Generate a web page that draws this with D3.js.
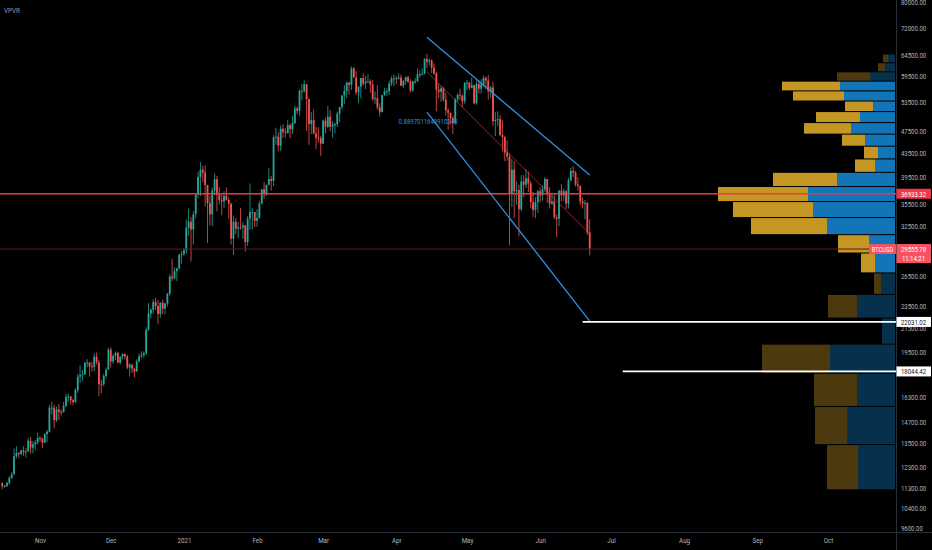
<!DOCTYPE html>
<html>
<head>
<meta charset="utf-8">
<script src="https://cdn.jsdelivr.net/npm/d3@7"></script>
<style>
  html, body { margin: 0; padding: 0; background: #000; overflow: hidden; }
  svg { display: block; }
  text { font-family: Roboto, "Noto Sans", sans-serif; }
</style>
</head>
<body>
<svg id="chart"></svg>
<script>
// BTCUSD daily candles, 16 Oct 2020 .. 22 Jun 2021 (open = previous close)
var firstDay = '2020-10-16';
var firstOpen = 11500;

var closes = [
  // oct
  11360, 11370, 11510, 11750, 11920, 12820, 12990, 12930, 13120, 13030, 13070, 13650, 13270, 13450, 13560, 13800,
  // nov
  13760, 13550, 14020, 14150, 15590, 15590, 14830, 15480, 15330, 15310, 15700, 16280, 16320, 16070, 15960,
  16730, 17660, 17780, 17820, 18680, 18710, 18420, 18370, 19160, 18720, 17150, 17140, 17720, 18180, 19700,
  // dec
  18790, 19220, 19440, 18700, 19150, 19360, 19170, 18330, 18550, 18250, 18040, 18800, 19170, 19270, 19440,
  21340, 22800, 23140, 23860, 23480, 22750, 23820, 23240, 23730, 24680, 26440, 26250, 27040, 27360, 28890, 28990,
  // jan
  29400, 32190, 33000, 31990, 33990, 36810, 39500, 40670, 40240, 38240, 35540, 34000, 37390, 39150, 36770,
  36010, 35800, 36630, 36020, 35470, 30820, 33000, 32090, 32270, 32250, 32500, 30400, 33400, 34300, 34300, 33100,
  // feb
  33500, 35500, 37600, 36950, 38300, 39200, 38900, 46400, 46500, 44850, 48000, 47400, 47200, 48700,
  47900, 49100, 52100, 51600, 55900, 55900, 57400, 54100, 48900, 49700, 47100, 46300, 46200, 45200,
  // mar
  49600, 48400, 50400, 48400, 48800, 48900, 51000, 52400, 54900, 55900, 57800, 57300, 61200, 59000, 55600,
  56900, 58900, 57600, 58000, 58100, 57400, 54100, 54300, 52300, 51300, 55000, 55800, 55800, 57600, 58800, 58800,
  // apr
  58700, 59000, 57100, 58200, 59100, 58000, 56000, 58100, 58100, 59800, 59800, 59900, 63600, 62900, 63200,
  61400, 60000, 56200, 55700, 56500, 54000, 51700, 51200, 50100, 49100, 54000, 55000, 54800, 53600, 57700,
  // may
  57800, 56600, 57200, 53200, 57500, 56400, 57400, 58900, 58300, 55800, 56700, 49500, 49700, 49900, 46800,
  46400, 43600, 42900, 37000, 40700, 37300, 37500, 34700, 38800, 38300, 39300, 38500, 35700, 34600, 35700, 37300,
  // jun
  36700, 37600, 39200, 36900, 35500, 35800, 33600, 33400, 37400, 36700, 37300,
  35500, 39000, 40500, 40200, 38300, 38100, 35800, 35500, 35600, 31600, 29555.78
];

var highs = [
  11540, 11420, 11560, 11830, 12030, 13220, 13350, 13030, 13170, 13340, 13250, 13790, 13860, 13640, 13680, 14100,
  13900, 13820, 14060, 14250, 15760, 15970, 15790, 15660, 15830, 15480, 15960, 16490, 16480, 16330, 16140,
  16880, 17860, 18480, 18140, 18780, 18960, 18700, 18770, 19400, 19480, 18900, 17460, 17870, 18330, 19850,
  19900, 19340, 19560, 19520, 19170, 19420, 19390, 19290, 18650, 18560, 18270, 18950, 19420, 19570, 19560,
  21560, 23770, 23260, 24150, 24290, 24080, 23830, 24100, 23800, 24760, 26720, 28400, 27460, 27390, 28990, 29310,
  29680, 33300, 34800, 33620, 34440, 36940, 40370, 41950, 41350, 41400, 38300, 36620, 37850, 40100, 39700,
  37950, 36820, 37320, 37850, 36400, 35600, 33830, 33500, 32940, 34870, 32940, 32560, 33750, 38500, 34860, 34300,
  34700, 35900, 37660, 38700, 38300, 40950, 39700, 46750, 48200, 47300, 48650, 48870, 48100, 49700,
  49000, 50600, 52600, 52500, 56300, 57500, 58350, 57500, 54200, 51350, 51900, 48400, 48300, 46600,
  49800, 50200, 52600, 51800, 49500, 49200, 51400, 52400, 54900, 57300, 58000, 58000, 61700, 61600, 60600,
  56900, 58900, 60000, 59400, 59800, 58600, 58400, 55800, 57200, 53200, 55000, 56600, 56500, 58300, 59300, 59800,
  59400, 60000, 59700, 58500, 59200, 59400, 58600, 58200, 58900, 61200, 60700, 61200, 63800, 64850, 63800,
  63500, 62500, 60400, 57500, 57000, 56800, 55500, 52100, 51200, 50500, 54300, 55400, 56400, 55200, 58000,
  58500, 58000, 59000, 57200, 58300, 58400, 58600, 59500, 59300, 59600, 57000, 58000, 51300, 51500, 50700,
  49700, 46600, 45800, 43500, 42500, 42200, 38800, 38300, 39800, 39800, 40800, 40400, 38900, 37200, 36400, 37500,
  37900, 38200, 39500, 39200, 37900, 36800, 36800, 34000, 37500, 38400, 37700,
  37500, 39400, 41000, 41300, 40500, 39500, 38200, 36400, 36000, 35700, 33300
];

var lows = [
  11220, 11300, 11330, 11420, 11690, 11900, 12710, 12750, 12880, 12850, 12760, 13050, 12950, 12980, 13130, 13430,
  13580, 13250, 13520, 13560, 14100, 15180, 14340, 14720, 14830, 15090, 15280, 15620, 15960, 15790, 15750,
  15870, 16560, 17220, 17340, 17780, 18350, 17670, 18020, 18070, 18540, 16330, 16520, 17000, 17530, 18170,
  18330, 18620, 18890, 18630, 18570, 18920, 18930, 18210, 17690, 17920, 17600, 18030, 18710, 19020, 19060,
  19260, 21240, 22380, 22790, 23100, 21880, 22400, 22730, 22700, 23440, 24490, 25970, 26130, 25990, 27230, 27860,
  28700, 29000, 31200, 28100, 30100, 33430, 36300, 36600, 38700, 35100, 30300, 32500, 32400, 36700, 34400,
  35400, 33900, 34900, 35900, 33400, 30100, 28850, 31400, 30900, 31950, 30800, 29250, 29900, 31950, 32000, 32300,
  32300, 33400, 35400, 36200, 36600, 38200, 37400, 38100, 45000, 43800, 43900, 46300, 46300, 47000,
  46200, 47000, 48900, 50900, 50600, 53800, 55500, 47600, 45000, 47000, 46900, 44200, 45400, 43000,
  45100, 47100, 48100, 47500, 46300, 47100, 48300, 49300, 51900, 53000, 54300, 55100, 56100, 59000, 55000,
  53300, 54200, 57100, 56300, 57800, 55500, 53700, 53100, 51800, 50400, 51300, 54700, 54800, 55000, 57000, 57000,
  57400, 58500, 57000, 56500, 57300, 57700, 55500, 55700, 57500, 58000, 59000, 59500, 59800, 61300, 62000,
  60000, 59600, 51500, 54300, 53500, 53600, 50600, 47800, 48800, 47000, 48800, 53400, 53900, 52400, 53100,
  56100, 56100, 56500, 53000, 52900, 55300, 55300, 56900, 56300, 54000, 54400, 48600, 46600, 48500, 46600,
  43800, 42100, 42200, 30000, 35000, 33500, 35300, 31100, 34400, 36400, 37800, 37200, 34800, 33600, 33500, 34200,
  35700, 35900, 37200, 35600, 34800, 35300, 33300, 31000, 32400, 35800, 35900,
  34700, 34800, 38800, 39500, 38000, 37400, 35300, 34800, 33300, 31300, 28800
];

// visible range volume profile: 24 rows, bottom to top, equal price steps
var profileLow = 11200;
var profileHigh = 64850;
var volumeUp =   [37, 48, 38, 65, 13, 38, 14, 20, 26, 68, 82, 87, 58, 20, 17, 30, 44, 35, 22, 51, 55, 25, 10, 7];
var volumeDown = [31, 32, 43, 68, 0, 29, 7, 14, 31, 76, 80, 90, 64, 20, 14, 23, 47, 44, 28, 51, 58, 33, 7, 5];
var valueArea = [7, 20]; // first and last row of the value area

var priceTicks = [80000, 72000, 64500, 59500, 53500, 47500, 43500, 39500, 35500, 32500,
  26500, 23500, 21500, 19500, 16300, 14700, 13500, 12300, 11300, 10400, 9600];

var symbol = 'BTCUSD';
var lastPrice = 29555.78;
var countdown = '11:14:21';
var alertLevel = 36933.32;
var supportLevels = [
  { price: 22031.02, from: '2021-06-19' },
  { price: 18044.42, from: '2021-07-06' }
];
var channelUpper = [['2021-04-14', 69380], ['2021-06-22', 39830]];
var channelLower = [['2021-04-14', 51340], ['2021-06-22', 22110]];
var channelMid = [['2021-04-14', 60390], ['2021-06-22', 31400]];
var channelLabel = { date: '2021-04-02', price: 49500, text: '0.8897011649910344' };

// layout
var width = 932;
var height = 550;
var plotRight = 896;
var plotBottom = 532;

var parse = d3.utcParse('%Y-%m-%d');

var x = d3.scaleUtc()
  .domain([parse('2020-11-01'), parse('2021-10-01')])
  .range([40, 828]);
var y = d3.scaleLog()
  .domain([9600, 80000])
  .range([528, 2]);

var svg = d3.select('#chart')
  .attr('width', width)
  .attr('height', height);

svg.append('rect')
  .attr('width', width)
  .attr('height', height)
  .attr('fill', '#000');

svg.append('clipPath').attr('id', 'plotClip')
  .append('rect')
    .attr('width', plotRight)
    .attr('height', plotBottom);

var plot = svg.append('g').attr('clip-path', 'url(#plotClip)');

// squeeze text sideways around its anchor, like the narrow chart font
function condense(sel, factor) {
  sel.each(function() {
    var ax = +(d3.select(this).attr('x') || 0);
    d3.select(this).attr('transform',
      'translate(' + ax + ',0) scale(' + factor + ',1) translate(' + (-ax) + ',0)');
  });
}

// volume profile
var step = (profileHigh - profileLow) / volumeUp.length;
var rows = volumeUp.map(function(u, i) {
  return {
    lo: profileLow + i * step,
    hi: profileLow + (i + 1) * step,
    up: u,
    down: volumeDown[i],
    inArea: i >= valueArea[0] && i <= valueArea[1]
  };
});
var v = d3.scaleLinear()
  .domain([0, d3.max(rows, function(r) { return r.up + r.down; })])
  .range([0, 177]);

var profile = plot.append('g');
profile.selectAll('rect.up')
  .data(rows)
  .enter()
  .append('rect')
    .classed('up', true)
    .attr('x', function(r) { return plotRight - 1 - v(r.up); })
    .attr('width', function(r) { return v(r.up); })
    .attr('y', function(r) { return y(r.hi) + 0.5; })
    .attr('height', function(r) { return y(r.lo) - y(r.hi) - 1; })
    .attr('fill', function(r) { return r.inArea ? 'rgba(21,146,230,0.8)' : 'rgba(21,146,230,0.33)'; });
profile.selectAll('rect.down')
  .data(rows)
  .enter()
  .append('rect')
    .classed('down', true)
    .attr('x', function(r) { return plotRight - 1 - v(r.up) - v(r.down); })
    .attr('width', function(r) { return v(r.down); })
    .attr('y', function(r) { return y(r.hi) + 0.5; })
    .attr('height', function(r) { return y(r.lo) - y(r.hi) - 1; })
    .attr('fill', function(r) { return r.inArea ? 'rgba(251,192,45,0.78)' : 'rgba(251,192,45,0.3)'; });

// candles
var start = parse(firstDay);
var candles = closes.map(function(c, i) {
  var o = i ? closes[i - 1] : firstOpen;
  return {
    date: d3.utcDay.offset(start, i),
    open: o,
    close: c,
    high: Math.max(highs[i], o, c),
    low: Math.min(lows[i], o, c)
  };
});
var upColor = '#26a69a';
var downColor = '#ef5350';
var bodyWidth = 1.8;

var bars = plot.append('g');
bars.selectAll('line.wick')
  .data(candles)
  .enter()
  .append('line')
    .classed('wick', true)
    .attr('x1', function(d) { return x(d.date); })
    .attr('x2', function(d) { return x(d.date); })
    .attr('y1', function(d) { return y(d.high); })
    .attr('y2', function(d) { return y(d.low); })
    .attr('stroke', function(d) { return d.close >= d.open ? upColor : downColor; })
    .attr('stroke-width', 0.8);
bars.selectAll('rect.body')
  .data(candles)
  .enter()
  .append('rect')
    .classed('body', true)
    .attr('x', function(d) { return x(d.date) - bodyWidth / 2; })
    .attr('width', bodyWidth)
    .attr('y', function(d) { return y(Math.max(d.open, d.close)); })
    .attr('height', function(d) { return Math.max(1, y(Math.min(d.open, d.close)) - y(Math.max(d.open, d.close))); })
    .attr('fill', function(d) { return d.close >= d.open ? upColor : downColor; });

// drawings
function hLine(price, fromX, color, w) {
  plot.append('line')
    .attr('x1', fromX).attr('x2', plotRight)
    .attr('y1', y(price)).attr('y2', y(price))
    .attr('stroke', color)
    .attr('stroke-width', w);
}
function segment(pts, color, w) {
  plot.append('line')
    .attr('x1', x(parse(pts[0][0]))).attr('y1', y(pts[0][1]))
    .attr('x2', x(parse(pts[1][0]))).attr('y2', y(pts[1][1]))
    .attr('stroke', color)
    .attr('stroke-width', w);
}

hLine(lastPrice, 0, '#5e1c22', 1);
hLine(alertLevel, 0, '#f23645', 1.4);
segment(channelMid, 'rgba(242,54,69,0.7)', 0.9);
segment(channelUpper, '#2f8fe0', 1.3);
segment(channelLower, '#2f8fe0', 1.3);
supportLevels.forEach(function(s) {
  hLine(s.price, x(parse(s.from)), '#ffffff', 1.8);
});

plot.append('text')
  .attr('x', x(parse(channelLabel.date)))
  .attr('y', y(channelLabel.price))
  .attr('dy', '0.35em')
  .attr('font-size', '8px')
  .attr('fill', '#2f8fe0')
  .text(channelLabel.text)
  .call(condense, 0.75);

// axes
svg.append('line')
  .attr('x1', plotRight + 0.5).attr('x2', plotRight + 0.5)
  .attr('y1', 0).attr('y2', height)
  .attr('stroke', '#2a2e39');
svg.append('line')
  .attr('x1', 0).attr('x2', width)
  .attr('y1', plotBottom + 0.5).attr('y2', plotBottom + 0.5)
  .attr('stroke', '#2a2e39');

var yAxis = svg.append('g')
  .attr('transform', 'translate(' + (plotRight + 1) + ',0)')
  .call(d3.axisRight(y).tickValues(priceTicks).tickFormat(d3.format('.2f')).tickSize(0).tickPadding(4));
yAxis.select('.domain').remove();
yAxis.selectAll('text')
  .attr('font-size', '8px')
  .attr('font-family', 'Roboto, sans-serif')
  .attr('fill', '#b2b5be')
  .call(condense, 0.75);

var months = d3.utcMonth.range(parse('2020-11-01'), parse('2021-10-02'));
var xAxis = svg.append('g')
  .attr('transform', 'translate(0,' + plotBottom + ')')
  .call(d3.axisBottom(x)
    .tickValues(months)
    .tickFormat(function(d) { return d.getUTCMonth() === 0 ? d3.utcFormat('%Y')(d) : d3.utcFormat('%b')(d); })
    .tickSize(0)
    .tickPadding(5));
xAxis.select('.domain').remove();
xAxis.selectAll('text')
  .attr('font-size', '8px')
  .attr('font-family', 'Roboto, sans-serif')
  .attr('fill', '#b2b5be')
  .call(condense, 0.78);

// price labels on the scale
function priceTag(price, bg, fg, lines) {
  var cy = y(price);
  var h = 10 + (lines.length - 1) * 9;
  svg.append('rect')
    .attr('x', plotRight + 0.5)
    .attr('y', cy - 5)
    .attr('width', 34.5)
    .attr('height', h)
    .attr('fill', bg);
  lines.forEach(function(t, i) {
    svg.append('text')
      .attr('x', plotRight + 17.5)
      .attr('y', cy + i * 9)
      .attr('dy', '0.35em')
      .attr('text-anchor', 'middle')
      .attr('font-size', '8px')
      .attr('fill', fg)
      .text(t)
      .call(condense, 0.75);
  });
}

var fmt = d3.format('.2f');
priceTag(alertLevel, '#f23645', '#ffffff', [fmt(alertLevel)]);
priceTag(lastPrice, '#f7525f', '#ffffff', [fmt(lastPrice), countdown]);
supportLevels.forEach(function(s) {
  priceTag(s.price, '#ffffff', '#131722', [fmt(s.price)]);
});

// symbol tag left of the scale
svg.append('rect')
  .attr('x', plotRight - 27)
  .attr('y', y(lastPrice) - 5)
  .attr('width', 27)
  .attr('height', 10)
  .attr('fill', '#f7525f');
svg.append('text')
  .attr('x', plotRight - 13.5)
  .attr('y', y(lastPrice))
  .attr('dy', '0.35em')
  .attr('text-anchor', 'middle')
  .attr('font-size', '8px')
  .attr('fill', '#ffffff')
  .text(symbol)
  .call(condense, 0.72);

// indicator title
svg.append('text')
  .attr('x', 4)
  .attr('y', 13)
  .attr('font-size', '7.5px')
  .attr('fill', '#9598a1')
  .text('VPVR')
  .call(condense, 0.85);
</script>
</body>
</html>
